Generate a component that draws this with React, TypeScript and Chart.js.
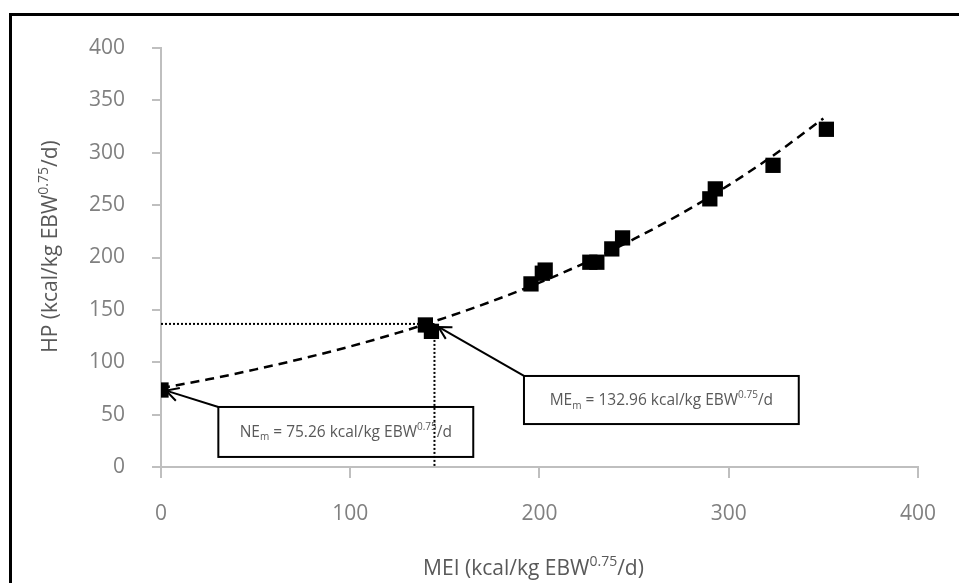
import React, { useEffect, useRef } from "react";
import { Chart, registerables } from "chart.js";

Chart.register(...registerables);

// Observed data (MEI vs HP)
const MEI = [0, 139.7, 142.9, 195.5, 201.5, 203, 226.6, 230.3, 238.2, 243.9, 290, 292.9, 323.4, 351.6];
const HP = [73.5, 135.6, 129.5, 174.8, 185, 188, 195.5, 195.5, 208.2, 218.7, 256, 265.5, 288, 322.4];

// Trend line
const TREND_MEI = [0, 25, 50, 75, 100, 125, 150, 175, 200, 225, 250, 275, 300, 325, 350];
const TREND_HP = [75.3, 83.7, 93.2, 103.6, 115.1, 128.0, 142.4, 158.3, 176.0, 195.7, 217.7, 242.0, 269.1, 299.3, 332.8];

// ME_m guide lines
const GUIDE_H_X = [0, 144.5];
const GUIDE_H_Y = [136.6, 136.6];
const GUIDE_V_X = [144.5, 144.5];
const GUIDE_V_Y = [136.6, 0];

const X_TICKS = [0, 100, 200, 300, 400];
const Y_TICKS = [0, 50, 100, 150, 200, 250, 300, 350, 400];

const X_TITLE = [
  { t: "MEI (kcal/kg EBW", k: "n" },
  { t: "0.75", k: "sup" },
  { t: "/d)", k: "n" },
];
const Y_TITLE = [
  { t: "HP (kcal/kg EBW", k: "n" },
  { t: "0.75", k: "sup" },
  { t: "/d)", k: "n" },
];

// Callouts: box [xLeft, xRight, yTop, yBottom] in data units, tip = arrow target
const NOTE_BOXES = [
  [30.3, 165, 57.3, 9.6],
  [191.8, 337, 86.9, 41],
];
const NOTE_TIPS = [
  [2.7, 72.9],
  [146.6, 133.7],
];
const NOTE_TEXTS = [
  [
    { t: "NE", k: "n" },
    { t: "m", k: "sub" },
    { t: " = 75.26 kcal/kg EBW", k: "n" },
    { t: "0.75", k: "sup" },
    { t: "/d", k: "n" },
  ],
  [
    { t: "ME", k: "n" },
    { t: "m", k: "sub" },
    { t: " = 132.96 kcal/kg EBW", k: "n" },
    { t: "0.75", k: "sup" },
    { t: "/d", k: "n" },
  ],
];

const FONT = "'Open Sans', 'DejaVu Sans', sans-serif";

type Seg = { t: string; k: string };

function richWidth(ctx: CanvasRenderingContext2D, segs: Seg[], size: number) {
  let w = 0;
  for (const s of segs) {
    const sz = s.k === "n" ? size : Math.round(size * 0.65);
    ctx.font = `${sz}px ${FONT}`;
    w += ctx.measureText(s.t).width;
  }
  return w;
}

function drawRich(ctx: CanvasRenderingContext2D, segs: Seg[], cx: number, cy: number, size: number, color: string) {
  const total = richWidth(ctx, segs, size);
  let x = cx - total / 2;
  ctx.fillStyle = color;
  ctx.textBaseline = "middle";
  ctx.textAlign = "left";
  for (const s of segs) {
    const sz = s.k === "n" ? size : Math.round(size * 0.65);
    ctx.font = `${sz}px ${FONT}`;
    let dy = 0;
    if (s.k === "sup") dy = -size * 0.35;
    if (s.k === "sub") dy = size * 0.3;
    ctx.fillText(s.t, x, cy + dy);
    x += ctx.measureText(s.t).width;
  }
}

const overlayPlugin = {
  id: "overlay",
  afterDraw(chart: any) {
    const ctx: CanvasRenderingContext2D = chart.ctx;
    const xs = chart.scales.x;
    const ys = chart.scales.y;
    const area = chart.chartArea;
    ctx.save();

    // callouts
    NOTE_BOXES.forEach((b, i) => {
      const x1 = xs.getPixelForValue(b[0]);
      const x2 = xs.getPixelForValue(b[1]);
      const y1 = ys.getPixelForValue(b[2]);
      const y2 = ys.getPixelForValue(b[3]);
      ctx.strokeStyle = "#000";
      ctx.lineWidth = 2;
      ctx.setLineDash([]);
      ctx.strokeRect(x1, y1, x2 - x1, y2 - y1);
      drawRich(ctx, NOTE_TEXTS[i] as Seg[], (x1 + x2) / 2, (y1 + y2) / 2 + 1, 15.5, "#595959");

      const tx = xs.getPixelForValue(NOTE_TIPS[i][0]);
      const ty = ys.getPixelForValue(NOTE_TIPS[i][1]);
      ctx.beginPath();
      ctx.moveTo(x1, y1);
      ctx.lineTo(tx, ty);
      ctx.stroke();
      const ang = Math.atan2(ty - y1, tx - x1);
      const L = 14;
      const spread = 0.5;
      ctx.beginPath();
      ctx.moveTo(tx - L * Math.cos(ang - spread), ty - L * Math.sin(ang - spread));
      ctx.lineTo(tx, ty);
      ctx.lineTo(tx - L * Math.cos(ang + spread), ty - L * Math.sin(ang + spread));
      ctx.stroke();
    });

    // axis titles
    drawRich(ctx, X_TITLE as Seg[], (area.left + area.right) / 2 - 6, area.bottom + 102, 21, "#595959");
    ctx.save();
    ctx.translate(51, (area.top + area.bottom) / 2 - 11);
    ctx.rotate(-Math.PI / 2);
    drawRich(ctx, Y_TITLE as Seg[], 0, 0, 21, "#595959");
    ctx.restore();

    ctx.restore();
  },
};

export default function App() {
  const ref = useRef<HTMLCanvasElement | null>(null);

  useEffect(() => {
    if (!ref.current) return;
    const pts = MEI.map((x, i) => ({ x, y: HP[i] }));
    const trend = TREND_MEI.map((x, i) => ({ x, y: TREND_HP[i] }));
    const gh = GUIDE_H_X.map((x, i) => ({ x, y: GUIDE_H_Y[i] }));
    const gv = GUIDE_V_X.map((x, i) => ({ x, y: GUIDE_V_Y[i] }));

    const chart = new Chart(ref.current, {
      type: "scatter",
      data: {
        datasets: [
          {
            label: "HP",
            data: pts,
            pointStyle: "rect",
            pointRadius: 10.8,
            backgroundColor: "#000",
            borderColor: "#000",
            borderWidth: 0,
            showLine: false,
            order: 0,
          },
          {
            label: "trend",
            data: trend,
            showLine: true,
            pointRadius: 0,
            borderColor: "#000",
            borderWidth: 2.5,
            borderDash: [9, 6],
            tension: 0.4,
            cubicInterpolationMode: "monotone",
            order: 1,
          },
          {
            label: "guideH",
            data: gh,
            showLine: true,
            pointRadius: 0,
            borderColor: "#000",
            borderWidth: 2,
            borderDash: [2, 2],
            order: 2,
          },
          {
            label: "guideV",
            data: gv,
            showLine: true,
            pointRadius: 0,
            borderColor: "#000",
            borderWidth: 2,
            borderDash: [2, 2],
            order: 2,
          },
        ],
      },
      options: {
        animation: false,
        responsive: false,
        devicePixelRatio: 1,
        layout: { padding: { left: 0, top: 48, right: 37, bottom: 0 } },
        plugins: {
          legend: { display: false },
          tooltip: { enabled: false },
        },
        scales: {
          x: {
            type: "linear",
            min: 0,
            max: 400,
            afterBuildTicks: (s: any) => {
              s.ticks = X_TICKS.map((v) => ({ value: v }));
            },
            afterFit: (s: any) => {
              s.height = 116;
            },
            border: { display: true, color: "#bfbfbf", width: 2 },
            grid: { drawOnChartArea: false, drawTicks: true, tickLength: 11, color: "#bfbfbf", lineWidth: 2 },
            ticks: { color: "#808080", font: { family: FONT, size: 21 }, padding: 23 },
          },
          y: {
            type: "linear",
            min: 0,
            max: 400,
            afterBuildTicks: (s: any) => {
              s.ticks = Y_TICKS.map((v) => ({ value: v }));
            },
            afterFit: (s: any) => {
              s.width = 161;
            },
            border: { display: true, color: "#bfbfbf", width: 2 },
            grid: { drawOnChartArea: false, drawTicks: true, tickLength: 9, color: "#bfbfbf", lineWidth: 2 },
            ticks: { color: "#808080", font: { family: FONT, size: 21 }, padding: 27 },
          },
        },
      },
      plugins: [overlayPlugin],
    });
    return () => chart.destroy();
  }, []);

  return (
    <div style={{ position: "absolute", left: 0, top: 0, width: 959, height: 583, overflow: "hidden", background: "#fff" }}>
      <div
        style={{
          position: "absolute",
          left: 9,
          top: 13,
          width: 2000,
          height: 2000,
          borderLeft: "3px solid #000",
          borderTop: "3px solid #000",
        }}
      />
      <canvas ref={ref} width={959} height={583} style={{ position: "absolute", left: 0, top: 0 }} />
    </div>
  );
}
